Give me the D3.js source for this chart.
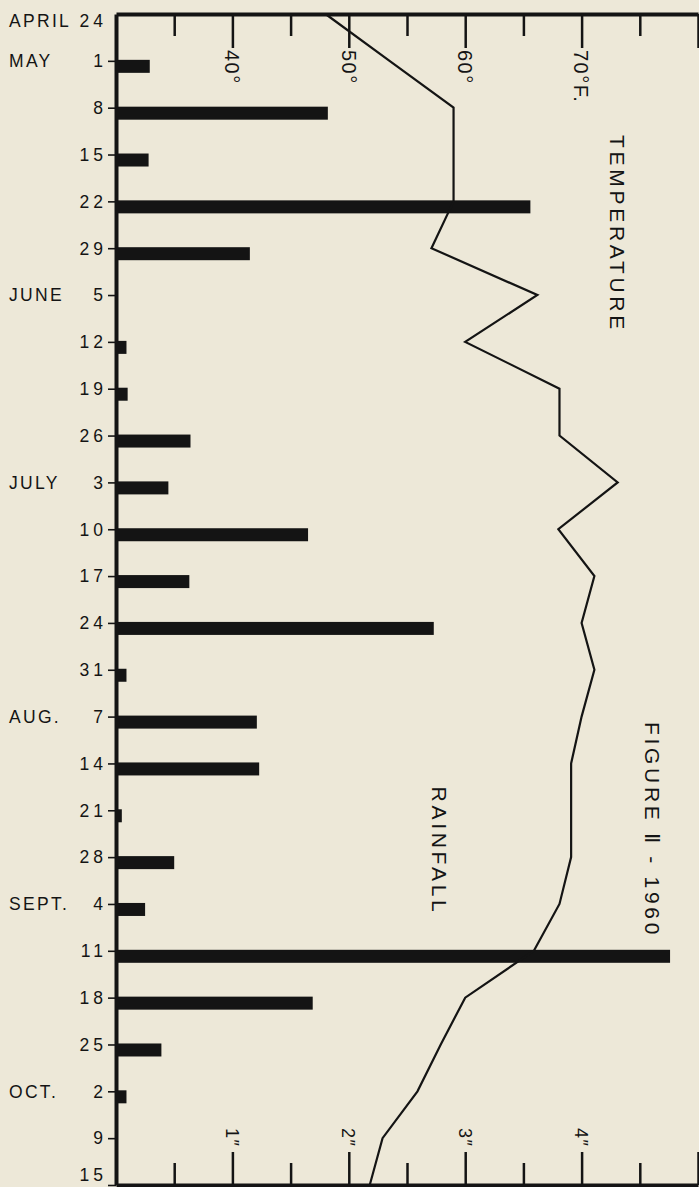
<!DOCTYPE html>
<html>
<head>
<meta charset="utf-8">
<script src="https://cdn.jsdelivr.net/npm/d3@7"></script>
<style>
  html, body { margin: 0; padding: 0; background: #ede8d8; }
  svg { display: block; }
  text { font-family: "Liberation Sans", Arial, sans-serif; fill: #141414; }
</style>
</head>
<body>
<svg id="chart" width="699" height="1187"></svg>
<script>
// Weekly observations, 24 April – 15 October 1960
const weekDates = ["Apr 24","May 1","May 8","May 15","May 22","May 29","Jun 5","Jun 12","Jun 19","Jun 26",
  "Jul 3","Jul 10","Jul 17","Jul 24","Jul 31","Aug 7","Aug 14","Aug 21","Aug 28",
  "Sep 4","Sep 11","Sep 18","Sep 25","Oct 2","Oct 9","Oct 15"];
const monthLabels = ["APRIL","MAY","","","","","JUNE","","","","JULY","","","","","AUG.","","","",
  "SEPT.","","","","OCT.","",""];
const dayLabels = ["24","1","8","15","22","29","5","12","19","26","3","10","17","24","31","7","14","21","28",
  "4","11","18","25","2","9","15"];

// Weekly rainfall, inches
const rainfall = [0, 0.29, 1.82, 0.28, 3.56, 1.15, 0, 0.09, 0.10, 0.64, 0.45, 1.65, 0.63, 2.73, 0.09,
  1.21, 1.23, 0.05, 0.50, 0.25, 4.76, 1.69, 0.39, 0.09, 0, 0];

// Mean weekly temperature, °F
const temperature = [48.0, 53.5, 59.0, 59.0, 59.0, 57.1, 66.2, 60.0, 68.1, 68.1, 73.1, 68.0, 71.1, 70.0, 71.1,
  70.0, 69.1, 69.1, 69.1, 68.1, 65.9, 60.0, 57.9, 55.9, 52.9, 51.8];

// Scale labels
const tempLabelValues = [40, 50, 60, 70];
const tempLabels = ["40°", "50°", "60°", "70°F."];
const rainLabelValues = [1, 2, 3, 4];
const rainLabels = ["1″", "2″", "3″", "4″"];

const ink = "#141414";
const svg = d3.select("#chart");
const W = 699, H = 1187;

svg.append("rect").attr("width", W).attr("height", H).attr("fill", "#ede8d8");

const plotTop = 14, plotBottom = 1185, plotLeft = 116, plotRight = 698;

const y = d3.scalePoint().domain(weekDates).range([plotTop, plotBottom]);
const xRain = d3.scaleLinear().domain([0, 5]).range([plotLeft, plotRight]);
const xTemp = d3.scaleLinear().domain([30, 80]).range([plotLeft, plotRight]);

// Rainfall bars hang just below each week's tick
const barH = 13;
svg.append("g").selectAll("rect")
  .data(weekDates.map((d, i) => ({ date: d, v: rainfall[i] })).filter(d => d.v > 0))
  .join("rect")
  .attr("x", xRain(0))
  .attr("y", d => y(d.date) - 1)
  .attr("width", d => xRain(d.v) - xRain(0))
  .attr("height", barH)
  .attr("fill", ink);

// Temperature trace
const line = d3.line()
  .x(d => xTemp(d.t))
  .y(d => y(d.date));
svg.append("path")
  .datum(weekDates.map((d, i) => ({ date: d, t: temperature[i] })))
  .attr("d", line)
  .attr("fill", "none")
  .attr("stroke", ink)
  .attr("stroke-width", 2.2)
  .attr("stroke-linejoin", "miter");

// Temperature scale along the top edge, ticks pointing into the plot
const topAxis = svg.append("g")
  .attr("transform", `translate(0,${plotTop})`)
  .call(d3.axisBottom(xTemp).tickValues(d3.range(35, 80.1, 5)).tickSizeOuter(0).tickFormat(""));
topAxis.selectAll(".tick line")
  .attr("y2", d => d % 10 === 0 ? 34 : 22)
  .attr("stroke", ink).attr("stroke-width", 2.5);
topAxis.select(".domain").attr("stroke", ink).attr("stroke-width", 4);

// Rainfall scale along the bottom edge
const botAxis = svg.append("g")
  .attr("transform", `translate(0,${plotBottom})`)
  .call(d3.axisTop(xRain).tickValues(d3.range(0.5, 5.01, 0.5)).tickSizeOuter(0).tickFormat(""));
botAxis.selectAll(".tick line")
  .attr("y2", d => Number.isInteger(d) ? -33 : -22)
  .attr("stroke", ink).attr("stroke-width", 2.5);
botAxis.select(".domain").attr("stroke", ink).attr("stroke-width", 4);

// Date axis on the left
const leftAxis = svg.append("g")
  .attr("transform", `translate(${plotLeft},0)`)
  .call(d3.axisLeft(y).tickValues(weekDates.slice(1)).tickSize(8).tickSizeOuter(0).tickFormat(""));
leftAxis.selectAll(".tick line").attr("stroke", ink).attr("stroke-width", 1.6);
leftAxis.select(".domain").attr("stroke", ink).attr("stroke-width", 4);

// Date labels (first and last nudged inside the frame)
const labelY = (d, i) => y(d) + (i === 0 ? 7 : i === weekDates.length - 1 ? -10 : 0);
svg.append("g").selectAll("text")
  .data(weekDates)
  .join("text")
  .attr("x", 107)
  .attr("y", labelY)
  .attr("dy", "0.36em")
  .attr("text-anchor", "end")
  .attr("font-size", 17.5)
  .attr("letter-spacing", 4)
  .text((d, i) => dayLabels[i]);

svg.append("g").selectAll("text")
  .data(weekDates.filter((d, i) => monthLabels[i] !== ""))
  .join("text")
  .attr("x", 9)
  .attr("y", d => labelY(d, weekDates.indexOf(d)))
  .attr("dy", "0.36em")
  .attr("font-size", 17.5)
  .attr("letter-spacing", 2.3)
  .text(d => monthLabels[weekDates.indexOf(d)]);

// Rotated scale labels
svg.append("g").selectAll("text")
  .data(tempLabelValues)
  .join("text")
  .attr("transform", d => `translate(${xTemp(d)},50) rotate(90)`)
  .attr("dy", "0.36em")
  .attr("font-size", 20)
  .attr("letter-spacing", 1.5)
  .text((d, i) => tempLabels[i]);

svg.append("g").selectAll("text")
  .data(rainLabelValues)
  .join("text")
  .attr("transform", d => `translate(${xRain(d)},1128) rotate(90)`)
  .attr("dy", "0.36em")
  .attr("font-size", 18)
  .attr("letter-spacing", 1.5)
  .text((d, i) => rainLabels[i]);

// Series names and figure title, set vertically
const vText = (txt, cx, cy) => svg.append("text")
  .attr("transform", `translate(${cx},${cy}) rotate(90)`)
  .attr("text-anchor", "middle")
  .attr("dy", "0.36em")
  .attr("font-size", 21)
  .attr("letter-spacing", 3.7)
  .text(txt);
vText("TEMPERATURE", 618, 234);
vText("RAINFALL", 440, 851);
vText("FIGURE Ⅱ - 1960", 653, 830);
</script>
</body>
</html>
